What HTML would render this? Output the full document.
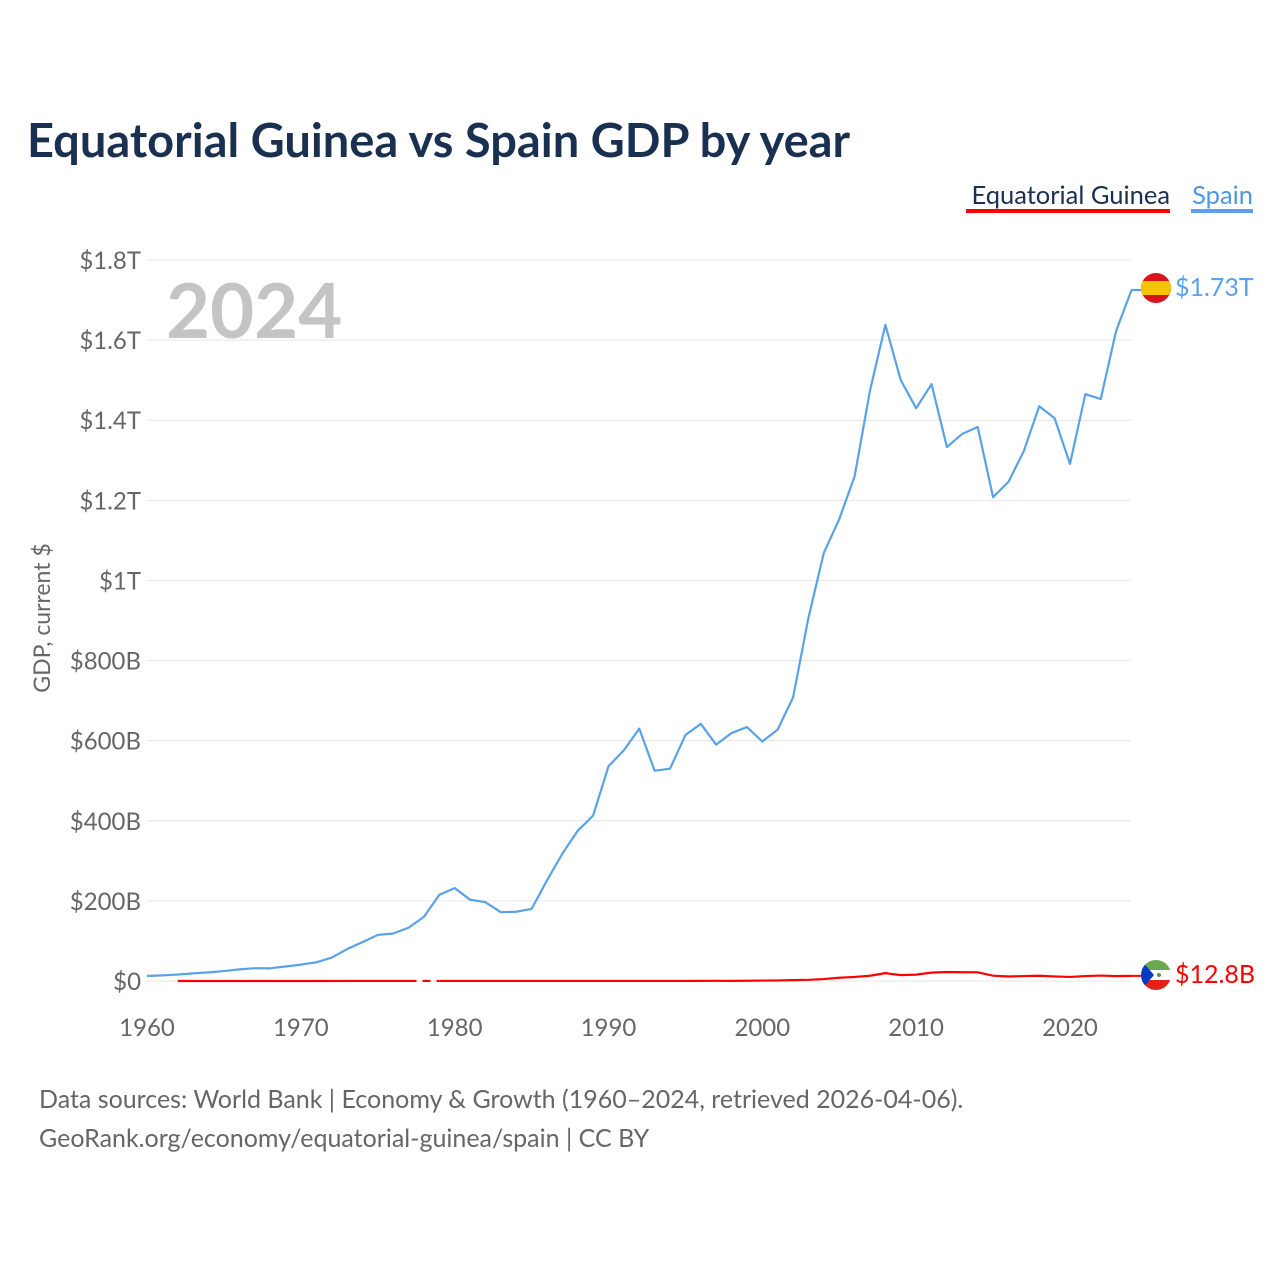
<!DOCTYPE html>
<html><head><meta charset="utf-8">
<style>
html,body{margin:0;padding:0;background:#fff;}
body{width:1280px;height:1280px;position:relative;font-family:"Lato","Liberation Sans",sans-serif;}
svg text{font-family:"Lato","Liberation Sans",sans-serif;}
</style></head>
<body>
<svg id="chart" width="1280" height="1280" xmlns="http://www.w3.org/2000/svg">
<text x="27" y="157" font-size="47" font-weight="bold" fill="#1a3050">Equatorial Guinea vs Spain GDP by year</text>
<g>
<text x="1170" y="204" text-anchor="end" font-size="25.5" fill="#1a3050">Equatorial Guinea</text>
<rect x="966" y="209" width="204" height="4" fill="#ff0000"/>
</g>
<g>
<text x="1253" y="204" text-anchor="end" font-size="25.5" fill="#4f97e0">Spain</text>
<rect x="1191" y="209" width="62" height="4" fill="#5aa2e8"/>
</g>
<text x="166" y="338" font-size="76" font-weight="bold" fill="#c4c4c4">2024</text>
<text transform="translate(50,618) rotate(-90)" text-anchor="middle" font-size="23" fill="#666">GDP, current $</text>
<g id="grid"></g><g id="yt"></g><g id="xt"></g><g id="lines"></g>
<text x="39" y="1108" font-size="25" fill="#666">Data sources: World Bank | Economy &amp; Growth (1960–2024, retrieved 2026-04-06).</text>
<text x="39" y="1147" font-size="25" fill="#666">GeoRank.org/economy/equatorial-guinea/spain | CC BY</text>
</svg>
<script>
const years=[];for(let y=1960;y<=2024;y++)years.push(y);
const spain=[12.4,14.0,16.1,19.0,21.5,24.8,29.0,32.0,31.6,36.2,40.9,46.6,58.2,79.5,96.9,115,118.6,133,160,215,232,203,196.7,171.8,172.9,180,251,318,375,413,536,576,630,525,530,614,642,590,619,634,598,628,708,907,1069,1153,1260,1474,1638,1500,1430,1490,1333,1366,1383,1208,1246,1323,1435,1405,1291,1465,1453,1623,1725];
const eqg=[null,null,0.05,0.05,0.06,0.06,0.07,0.07,0.07,0.08,0.08,0.08,0.09,0.1,0.1,0.1,0.1,0.1,null,0.1,0.1,0.1,0.1,0.1,0.1,0.1,0.1,0.1,0.1,0.1,0.13,0.13,0.15,0.14,0.13,0.14,0.23,0.5,0.37,0.62,1.05,1.46,2.17,2.97,4.9,8.2,10.1,13.1,19.7,14.6,15.9,20.9,22.4,21.9,21.7,13.2,11.2,12.3,13.1,11.4,10.1,12.3,13.6,12.1,12.8];
const yTicks=[0,200,400,600,800,1000,1200,1400,1600,1800];
const yLabels=["$0","$200B","$400B","$600B","$800B","$1T","$1.2T","$1.4T","$1.6T","$1.8T"];
const xTicks=[1960,1970,1980,1990,2000,2010,2020];
const NS="http://www.w3.org/2000/svg";
const X=y=>147+(y-1960)*15.383;
const Y=v=>981-v*0.40056;
function mk(t,a,p){const e=document.createElementNS(NS,t);for(const k in a)e.setAttribute(k,a[k]);p.appendChild(e);return e;}
const grid=document.getElementById('grid'),yt=document.getElementById('yt'),xt=document.getElementById('xt'),lines=document.getElementById('lines');
yTicks.forEach((v,i)=>{
 const l=mk('line',{x1:147,x2:1131,y1:Y(v),y2:Y(v),stroke:'#e6e6e6','stroke-width':1},grid);
 
 
 const t=mk('text',{x:141,y:Y(v)+9,'text-anchor':'end','font-size':24,fill:'#666'},yt);t.textContent=yLabels[i];
 
 
});
xTicks.forEach(yr=>{
 const t=mk('text',{x:X(yr),y:1036,'text-anchor':'middle','font-size':24,fill:'#666'},xt);t.textContent=yr;
 
 
});
function segs(vals){const out=[];let cur=[];vals.forEach((v,i)=>{if(v==null){if(cur.length)out.push(cur);cur=[];}else cur.push([X(years[i]),Y(v)]);});if(cur.length)out.push(cur);return out;}
const sp=mk('polyline',{points:spain.map((v,i)=>X(years[i])+','+Y(v)).join(' ')+' '+(X(2024)+8)+','+Y(1725),fill:'none',stroke:'#5aa2e8','stroke-width':2.2,'stroke-linejoin':'round'},lines);


const es=segs(eqg);
es.forEach((s,k)=>{
 const p=mk('polyline',{points:s.map(q=>q.join(',')).join(' '),fill:'none',stroke:'#ff0000','stroke-width':2.2,'stroke-linejoin':'round'},lines);
 
 
 if(k>0){const a=es[k-1][es[k-1].length-1],b=s[0];
  const d=mk('line',{x1:a[0],y1:a[1],x2:b[0],y2:b[1],stroke:'#ff0000','stroke-width':2.2,'stroke-dasharray':'8,6'},lines);
  
  }
});
const fy=Y(spain[64]);
mk('line',{x1:X(2024),x2:1142,y1:fy,y2:fy,stroke:'#5aa2e8','stroke-width':2},lines);
const g1=mk('g',{},lines);


const c1=mk('clipPath',{id:'c1'},g1);mk('circle',{cx:1156,cy:288,r:15},c1);
mk('rect',{x:1141,y:273,width:30,height:30,fill:'#d8121f','clip-path':'url(#c1)'},g1);
mk('rect',{x:1141,y:281,width:30,height:14,fill:'#f5c400','clip-path':'url(#c1)'},g1);
const t1=mk('text',{x:1175,y:296,'font-size':25,fill:'#5aa2e8'},lines);t1.textContent='$'+(spain[64]/1000).toFixed(2)+'T';


const ey=Y(eqg[64]);
mk('line',{x1:X(2024),x2:1142,y1:ey,y2:ey,stroke:'#ff0000','stroke-width':2},lines);
const g2=mk('g',{},lines);


const c2=mk('clipPath',{id:'c2'},g2);mk('circle',{cx:1156,cy:975,r:15},c2);
mk('rect',{x:1141,y:960,width:30,height:10,fill:'#6aa84f','clip-path':'url(#c2)'},g2);
mk('rect',{x:1141,y:970,width:30,height:10,fill:'#fff','clip-path':'url(#c2)'},g2);
mk('rect',{x:1141,y:980,width:30,height:10,fill:'#e32118','clip-path':'url(#c2)'},g2);
mk('polygon',{points:'1141,960 1154,975 1141,990',fill:'#0039c6','clip-path':'url(#c2)'},g2);
mk('circle',{cx:1159,cy:975,r:2,fill:'#6a8a4a'},g2);
const t2=mk('text',{x:1175,y:983,'font-size':25,fill:'#ff0000'},lines);t2.textContent='$'+eqg[64].toFixed(1)+'B';


</script>
</body></html>
